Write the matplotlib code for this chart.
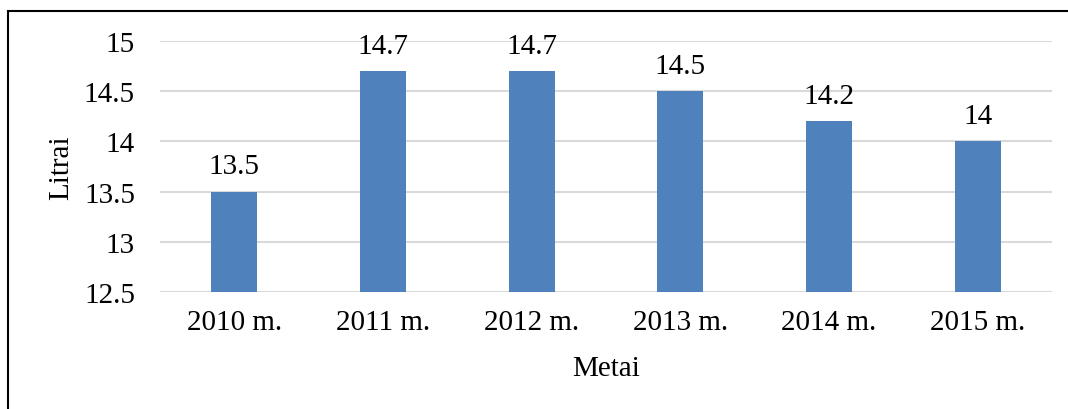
import matplotlib
matplotlib.use("Agg")
import matplotlib.pyplot as plt
from matplotlib.patches import Rectangle

categories = ["2010 m.", "2011 m.", "2012 m.", "2013 m.", "2014 m.", "2015 m."]
values = [13.5, 14.7, 14.7, 14.5, 14.2, 14.0]
value_labels = ["13.5", "14.7", "14.7", "14.5", "14.2", "14"]
yticks = [12.5, 13, 13.5, 14, 14.5, 15]
ytick_labels = ["12.5", "13", "13.5", "14", "14.5", "15"]

plt.rcParams['font.family'] = ['Liberation Serif', 'DejaVu Serif']
W, H = 1068, 410
fig = plt.figure(figsize=(W / 100, H / 100), dpi=100)
ax = fig.add_axes([160 / W, 1 - 293 / H, (1052 - 160) / W, (293 - 42) / H])

x = list(range(len(categories)))
ax.bar(x, values, width=0.31, color="#4F81BD", zorder=3, bottom=0)
ax.set_xlim(-0.5, len(categories) - 0.5)
ax.set_ylim(12.5, 15)
ax.set_yticks(yticks)
ax.set_yticklabels(ytick_labels)
ax.set_xticks(x)
ax.set_xticklabels(categories)
ax.tick_params(axis='both', length=0, labelsize=21, colors='black')
ax.tick_params(axis='y', pad=18)
ax.tick_params(axis='x', pad=12)
ax.grid(axis='y', color='#D9D9D9', linewidth=1.5, zorder=0)
for s in ax.spines.values():
    s.set_visible(False)

for xi, v, lab in zip(x, values, value_labels):
    ax.annotate(lab, (xi, v), xytext=(0, 9), textcoords='offset points',
                ha='center', va='bottom', fontsize=21)

ax.set_xlabel("Metai", fontsize=21, labelpad=15)
ax.set_ylabel("Litrai", fontsize=21, labelpad=7)

fig.patches.append(Rectangle((8 / W, -0.1), 1.2, 1 - 12 / H + 0.1, transform=fig.transFigure,
                             fill=False, edgecolor='black', linewidth=1.5))

fig.savefig("out.png", dpi=100)
